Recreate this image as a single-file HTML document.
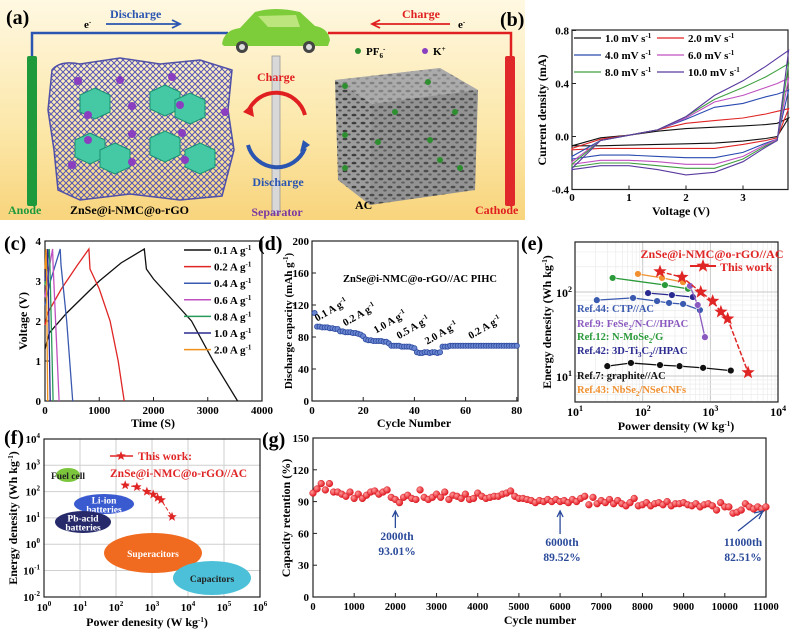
<!DOCTYPE html>
<html><head><meta charset="utf-8"><style>
html,body{margin:0;padding:0;background:#fff}
svg{display:block;font-family:"Liberation Serif",serif;font-weight:bold}
</style></head><body>
<svg id="fig" width="800" height="633" viewBox="0 0 800 633" xmlns="http://www.w3.org/2000/svg">
<defs>
<linearGradient id="bgA" x1="0" y1="0" x2="0" y2="1"><stop offset="0" stop-color="#fff8e2"/><stop offset="0.6" stop-color="#fce7a8"/><stop offset="1" stop-color="#f8d47c"/></linearGradient>
<pattern id="mesh" width="6" height="6" patternUnits="userSpaceOnUse"><path d="M0 3 L3 0 L6 3 L3 6 Z" fill="none" stroke="#5656b4" stroke-width="1"/></pattern>
<pattern id="pores" width="9" height="8" patternUnits="userSpaceOnUse"><rect width="9" height="8" fill="#9c9c9c"/><ellipse cx="3" cy="3" rx="2.5" ry="1.3" fill="#3e3e3e"/><ellipse cx="7" cy="6.5" rx="1.8" ry="1" fill="#555"/></pattern>
<radialGradient id="rdot" cx="0.35" cy="0.35" r="0.7"><stop offset="0" stop-color="#ff9a9a"/><stop offset="1" stop-color="#e0101a"/></radialGradient>
</defs>

<!-- Panel (a) schematic -->
<g>
<rect x="0" y="0" width="525" height="220" fill="url(#bgA)"/>
<text x="6" y="24" font-size="20">(a)</text>
<path d="M32 56 V33 H228" fill="none" stroke="#2a55b0" stroke-width="2.5"/>
<path d="M328 33 H511 V56" fill="none" stroke="#e02020" stroke-width="2.5"/>
<text x="84" y="28" font-size="11">e<tspan dy="-4" font-size="7">-</tspan></text>
<text x="110" y="18" font-size="12" fill="#2a55b0">Discharge</text>
<path d="M106 24 H178 M172 20 L180 24 L172 28" stroke="#2a55b0" stroke-width="1.8" fill="none"/>
<text x="402" y="18" font-size="12" fill="#e02020">Charge</text>
<path d="M450 24 H372 M380 20 L372 24 L380 28" stroke="#e02020" stroke-width="1.8" fill="none"/>
<text x="458" y="28" font-size="11">e<tspan dy="-4" font-size="7">-</tspan></text>
<g>
<path d="M222 44 Q224 30 240 28 L255 12 Q275 6 300 12 L315 26 Q328 28 330 40 L328 46 L224 46 Z" fill="#7dcc3a"/>
<path d="M258 16 L268 27 L300 27 L296 15 Z" fill="#d8ef9a" opacity="0.7"/>
<circle cx="242" cy="47" r="6" fill="#444"/><circle cx="242" cy="47" r="3" fill="#ddd"/>
<circle cx="309" cy="47" r="6" fill="#444"/><circle cx="309" cy="47" r="3" fill="#ddd"/>
</g>
<rect x="27" y="56" width="10" height="150" rx="2" fill="#1e9a3c"/>
<rect x="505" y="56" width="10" height="150" rx="2" fill="#e0282a"/>
<rect x="272" y="56" width="8" height="158" fill="#d8d8d8" stroke="#999" stroke-width="0.8"/>
<g>
<path d="M52 70 Q60 60 80 64 L120 58 L160 64 L200 60 L232 70 L228 110 L234 150 L222 196 L180 200 L130 194 L80 200 L58 190 L54 150 L48 110 Z" fill="url(#mesh)" stroke="#5050a8" stroke-width="1.5"/>
<g fill="#45c9a4" stroke="#1d8f72" stroke-width="1">
<polygon points="80,95 95,88 110,95 110,112 95,119 80,112"/>
<polygon points="150,92 165,85 180,92 180,109 165,116 150,109"/>
<polygon points="175,100 190,93 205,100 205,117 190,124 175,117"/>
<polygon points="75,140 90,133 105,140 105,157 90,164 75,157"/>
<polygon points="100,150 115,143 130,150 130,167 115,174 100,167"/>
<polygon points="150,138 165,131 180,138 180,155 165,162 150,155"/>
<polygon points="185,150 200,143 215,150 215,167 200,174 185,167"/>
</g>
<g fill="#8a3fc0">
<circle cx="78" cy="81" r="4"/><circle cx="120" cy="80" r="4"/><circle cx="172" cy="77" r="4"/><circle cx="132" cy="106" r="4"/><circle cx="180" cy="105" r="4"/><circle cx="88" cy="115" r="4"/><circle cx="225" cy="112" r="4"/><circle cx="88" cy="140" r="4"/><circle cx="132" cy="134" r="4"/><circle cx="182" cy="133" r="4"/><circle cx="72" cy="165" r="4"/><circle cx="132" cy="162" r="4"/><circle cx="185" cy="160" r="4"/>
</g>
</g>
<path d="M305 115 A30 30 0 0 0 248 112" fill="none" stroke="#e02020" stroke-width="4"/>
<path d="M243 112 L252 104 L254 117 Z" fill="#e02020"/>
<path d="M248 145 A30 30 0 0 0 305 148" fill="none" stroke="#2a55b0" stroke-width="4"/>
<path d="M310 145 L300 152 L303 140 Z" fill="#2a55b0"/>
<text x="276" y="81" font-size="12" fill="#e02020" text-anchor="middle">Charge</text>
<text x="278" y="186" font-size="12" fill="#2a55b0" text-anchor="middle">Discharge</text>
<g>
<polygon points="335,80 440,68 478,90 475,190 370,205 338,180" fill="url(#pores)"/>
<polygon points="335,80 440,68 478,90 372,104" fill="#b8b8b8" opacity="0.55"/>
<polygon points="372,104 478,90 475,190 370,205" fill="#777" opacity="0.25"/>
<g fill="#2e8f30"><circle cx="345" cy="86" r="3"/><circle cx="428" cy="82" r="3"/><circle cx="395" cy="112" r="3"/><circle cx="455" cy="112" r="3"/><circle cx="345" cy="135" r="3"/><circle cx="378" cy="142" r="3"/><circle cx="430" cy="140" r="3"/><circle cx="440" cy="160" r="3"/><circle cx="345" cy="168" r="3"/><circle cx="460" cy="168" r="3"/></g>
</g>
<circle cx="358" cy="51" r="3" fill="#2e8f30"/><text x="366" y="55" font-size="11">PF<tspan font-size="7" dy="3">6</tspan><tspan font-size="7" dy="-7">-</tspan></text>
<circle cx="425" cy="51" r="3" fill="#8a3fc0"/><text x="433" y="55" font-size="11">K<tspan font-size="7" dy="-4">+</tspan></text>
<text x="8" y="214" font-size="12" fill="#1e9a3c">Anode</text>
<text x="70" y="214" font-size="12">ZnSe@i-NMC@o-rGO</text>
<text x="277" y="216" font-size="12" fill="#7a3aa0" text-anchor="middle">Separator</text>
<text x="355" y="209" font-size="12">AC</text>
<text x="475" y="214" font-size="12" fill="#e02020">Cathode</text>
</g>

<g id="charts"></g>
</svg>
<script>
// ---------- data ----------
const cvVolt = [0,0.5,1,1.5,2,2.5,3,3.4,3.6,3.8];
const cvRates = ["1.0","2.0","4.0","6.0","8.0","10.0"];
const cvUpper1 = [-0.07,-0.01,0.01,0.04,0.06,0.07,0.08,0.09,0.10,0.14];
const cvUpper2 = [-0.09,-0.02,0.01,0.05,0.10,0.12,0.14,0.17,0.19,0.21];
const cvUpper4 = [-0.15,-0.03,0.01,0.05,0.13,0.22,0.25,0.30,0.32,0.35];
const cvUpper6 = [-0.19,-0.03,0.01,0.05,0.14,0.26,0.31,0.37,0.40,0.44];
const cvUpper8 = [-0.21,-0.03,0.01,0.05,0.15,0.28,0.37,0.45,0.50,0.55];
const cvUpper10 = [-0.24,-0.03,0.01,0.05,0.15,0.31,0.42,0.53,0.59,0.65];
const cvLower1 = [-0.07,-0.07,-0.065,-0.06,-0.055,-0.05,-0.035,-0.015,0.0,0.14];
const cvLower2 = [-0.10,-0.09,-0.09,-0.09,-0.09,-0.09,-0.06,-0.03,-0.01,0.21];
const cvLower4 = [-0.17,-0.14,-0.14,-0.15,-0.16,-0.16,-0.12,-0.05,-0.02,0.35];
const cvLower6 = [-0.21,-0.18,-0.18,-0.19,-0.21,-0.21,-0.15,-0.06,-0.02,0.44];
const cvLower8 = [-0.23,-0.20,-0.20,-0.22,-0.24,-0.24,-0.17,-0.07,-0.03,0.55];
const cvLower10 = [-0.25,-0.22,-0.22,-0.25,-0.29,-0.27,-0.19,-0.08,-0.03,0.65];

const gcdCurrents = ["0.1","0.2","0.4","0.6","0.8","1.0","2.0"];
const gcdTime01 = [0,80,400,1000,1400,1830,1870,2000,2700,3100,3550];
const gcdVolt01 = [1.3,1.7,2.2,3.0,3.45,3.8,3.3,3.05,2.0,1.0,0];
const gcdTime02 = [0,50,300,600,810,830,1000,1200,1350,1460];
const gcdVolt02 = [1.9,2.2,2.8,3.4,3.8,3.3,2.8,2.0,1.0,0];
const gcdTime04 = [0,100,280,295,400,510];
const gcdVolt04 = [2.4,3.0,3.8,3.4,2.0,0];
const gcdTime06 = [0,60,140,150,260];
const gcdVolt06 = [2.6,3.2,3.8,3.4,0];
const gcdTime08 = [0,40,80,90,150];
const gcdVolt08 = [2.9,3.4,3.8,3.4,0];
const gcdTime10 = [0,50,55,95];
const gcdVolt10 = [3.0,3.8,3.4,0];
const gcdTime20 = [0,20,25,50];
const gcdVolt20 = [3.3,3.8,3.4,0];

const rateCapacity = [110,93,93,92,92,92,91,91,90,90,87,87,86,86,86,85,85,84,83,81,77,76,76,75,75,75,75,74,74,72,69,69,69,69,68,68,68,68,67,66,61,60,60,61,61,60,61,61,60,61,68,68,68,69,69,69,69,69,69,69,69,69,69,69,69,69,69,69,69,69,69,69,69,69,69,69,69,69,69,69];
const rateLabels = ["0.1 A g","0.2 A g","1.0 A g","0.5 A g","2.0 A g","0.2 A g"];
const rateLabelCycle = [2,13,25,34,45,62];
const rateLabelCap = [93,87,78,71,64,71];

const thisPower = [180,380,720,1080,1430,1800,3600];
const thisEnergy = [175,150,100,78,58,48,11];
const ref43Power = [85,193,394];
const ref43Energy = [164,147,131];
const ref12Power = [36,213,467];
const ref12Energy = [147,121,109];
const ref7Power = [30,67,180,350,780,2000];
const ref7Energy = [13.1,14.3,13.5,13.1,12.5,11.6];
const ref44Power = [21,72,163,245,395,700];
const ref44Energy = [80,85,78,74,72,61];
const ref42Power = [120,270,550];
const ref42Energy = [97,92,87];
const ref9Power = [500,650,830];
const ref9Energy = [118,70,29];

const cycleStep = 100;
const retention = [98,102,107,101,107,99,99,97,95,99,93,
97,93,96,99,100,97,99,101,94,92,
89,94,96,93,92,101,94,92,94,97,
94,99,92,96,95,93,97,92,93,98,
95,93,94,95,95,97,98,100,95,93,
93,92,91,89,91,90,92,90,92,90,
91,89,92,90,93,95,87,94,88,91,
89,92,88,91,88,86,89,93,86,87,
89,86,88,89,87,90,86,88,88,89,
87,86,88,85,87,88,86,82,89,85,
85,79,80,82,88,85,83,85,83,85];

// ---------- helpers ----------
const NS="http://www.w3.org/2000/svg";
const root=document.getElementById('charts');
function mk(tag,attrs,parent){const e=document.createElementNS(NS,tag);for(const k in attrs)e.setAttribute(k,attrs[k]);(parent||root).appendChild(e);return e;}
function txt(x,y,s,size,extra,parent){const e=mk('text',Object.assign({x:x,y:y,'font-size':size},extra||{}),parent);e.innerHTML=s;return e;}
function poly(xs,ys,fx,fy){return xs.map((v,i)=>(i?'L':'M')+fx(v).toFixed(1)+' '+fy(ys[i]).toFixed(1)).join(' ');}
function star(cx,cy,r){let p='';for(let i=0;i<10;i++){const a=-Math.PI/2+i*Math.PI/5,rr=i%2?r*0.42:r;p+=(i?'L':'M')+(cx+rr*Math.cos(a)).toFixed(1)+' '+(cy+rr*Math.sin(a)).toFixed(1);}return p+'Z';}
const lg=Math.log10;

// ---------- panel b ----------
{
const g=mk('g',{});


const xb=v=>572+v*57, yb=i=>136.5-i*132.5;
const lab=txt(500,26,'(b)',20,{},g);


const fr=mk('rect',{x:572,y:30,width:216,height:159.5,fill:'none',stroke:'#222','stroke-width':1.2},g);


[0,1,2,3].forEach(v=>{mk('line',{x1:xb(v),x2:xb(v),y1:189.5,y2:185.5,stroke:'#222'},g);const t=txt(xb(v),201,String(v),11,{'text-anchor':'middle'},g);

});
[-0.4,0,0.4,0.8].forEach(v=>{mk('line',{x1:572,x2:576,y1:yb(v),y2:yb(v),stroke:'#222'},g);const t=txt(569,yb(v)+4,v.toFixed(1),11,{'text-anchor':'end'},g);

});
const xt=txt(681,215,'Voltage (V)',12,{'text-anchor':'middle'},g);


const yt=txt(0,0,'Current density (mA)',12,{'text-anchor':'middle',transform:'translate(546,110) rotate(-90)'},g);


const cols=['#111','#e02525','#2a4ab0','#c050c0','#40a040','#5a3aa0'];
const ups=[cvUpper1,cvUpper2,cvUpper4,cvUpper6,cvUpper8,cvUpper10];
const los=[cvLower1,cvLower2,cvLower4,cvLower6,cvLower8,cvLower10];
ups.forEach((u,k)=>{
 const d=poly(cvVolt,u,xb,yb)+' '+poly(cvVolt.slice().reverse(),los[k].slice().reverse(),xb,yb).replace('M','L')+'Z';
 const p=mk('path',{d:d,fill:'none',stroke:cols[k],'stroke-width':1.1},g);
 
 
 const col=k%2, row=Math.floor(k/2);
 const lx=col?657:574, ly=42+row*17;
 const ll=mk('line',{x1:lx,x2:lx+27,y1:ly-4,y2:ly-4,stroke:cols[k],'stroke-width':1.3},g);
 
 
 const lt=txt(lx+31,ly,cvRates[k]+' mV s<tspan dy="-4" font-size="7">-1</tspan>',11,{},g);
 
 
});
}

// ---------- panel c ----------
{
const g=mk('g',{});


const xc=t=>45+t*0.05425, yc=v=>401-v*40;
const lab=txt(4,250,'(c)',20,{},g);


const fr=mk('rect',{x:45,y:241,width:217,height:160,fill:'none',stroke:'#222','stroke-width':1.2},g);


[0,1000,2000,3000,4000].forEach(v=>{mk('line',{x1:xc(v),x2:xc(v),y1:401,y2:397,stroke:'#222'},g);const t=txt(xc(v),414,String(v),11,{'text-anchor':'middle'},g);

});
[0,1,2,3,4].forEach(v=>{mk('line',{x1:45,x2:49,y1:yc(v),y2:yc(v),stroke:'#222'},g);const t=txt(41,yc(v)+4,String(v),11,{'text-anchor':'end'},g);

});
const xt=txt(153,427,'Time (S)',12,{'text-anchor':'middle'},g);


const yt=txt(0,0,'Voltage (V)',12,{'text-anchor':'middle',transform:'translate(27,321) rotate(-90)'},g);


const cols=['#111','#e02525','#3a5ab0','#c050c0','#2a9a5a','#2a2a90','#f0901a'];
const T=[gcdTime01,gcdTime02,gcdTime04,gcdTime06,gcdTime08,gcdTime10,gcdTime20];
const V=[gcdVolt01,gcdVolt02,gcdVolt04,gcdVolt06,gcdVolt08,gcdVolt10,gcdVolt20];
T.forEach((t,k)=>{
 const p=mk('path',{d:poly(t,V[k],xc,yc),fill:'none',stroke:cols[k],'stroke-width':1.3},g);
 
 
 const ly=254+k*16.6;
 const ll=mk('line',{x1:184,x2:211,y1:ly-4,y2:ly-4,stroke:cols[k],'stroke-width':1.5},g);
 
 
 const lt=txt(214,ly,gcdCurrents[k]+' A g<tspan dy="-4" font-size="7">-1</tspan>',11,{},g);
 
 
});
}

// ---------- panel d ----------
{
const g=mk('g',{});


const xd=n=>312+n*2.56, yd=c=>401-c*0.8;
const lab=txt(258,250,'(d)',20,{},g);


const fr=mk('rect',{x:312,y:241,width:206,height:160,fill:'none',stroke:'#222','stroke-width':1.2},g);


[0,20,40,60,80].forEach(v=>{mk('line',{x1:xd(v),x2:xd(v),y1:401,y2:397,stroke:'#222'},g);const t=txt(xd(v),414,String(v),11,{'text-anchor':'middle'},g);

});
[0,40,80,120,160,200].forEach(v=>{mk('line',{x1:312,x2:316,y1:yd(v),y2:yd(v),stroke:'#222'},g);const t=txt(309,yd(v)+4,String(v),11,{'text-anchor':'end'},g);

});
const xt=txt(414,427,'Cycle Number',12,{'text-anchor':'middle'},g);


const yt=txt(0,0,'Discharge capacity (mAh g<tspan dy="-4" font-size="7">-1</tspan><tspan dy="4">)</tspan>',11,{'text-anchor':'middle',transform:'translate(292,321) rotate(-90)'},g);


const ti=txt(420,282,'ZnSe@i-NMC@o-rGO//AC PIHC',10.5,{'text-anchor':'middle'},g);


rateCapacity.forEach((c,i)=>{
 const d=mk('circle',{cx:xd(i+1),cy:yd(c),r:2.6,fill:'#6a86d0',stroke:'#2d4aa0','stroke-width':0.8},g);
 
 
});
rateLabels.forEach((s,i)=>{
 const x=xd(rateLabelCycle[i]), y=yd(rateLabelCap[i])-5;
 const t=txt(0,0,s+'<tspan dy="-4" font-size="7">-1</tspan>',10.5,{transform:'translate('+x+','+y+') rotate(-30)'},g);
 
 
});
}

// ---------- panel e ----------
{
const g=mk('g',{});


const xe=p=>575+(lg(p)-1)*67.7, ye=e=>376-(lg(e)-1)*84;
const lab=txt(521,250,'(e)',20,{},g);


for(let dcd=1;dcd<4;dcd++)for(let m=1;m<10;m++){const x=xe(m*Math.pow(10,dcd));mk('line',{x1:x,x2:x,y1:242,y2:402,stroke:m==1?'#c8c8c8':'#ececec','stroke-width':m==1?1:0.7},g);}
[5,6,7,8,9,10,20,30,40,50,60,70,80,90,100,200,300,400].forEach(v=>{const y=ye(v);mk('line',{x1:575,x2:778,y1:y,y2:y,stroke:(v==10||v==100)?'#c8c8c8':'#ececec','stroke-width':(v==10||v==100)?1:0.7},g);});
const fr=mk('rect',{x:575,y:242,width:203,height:160,fill:'none',stroke:'#222','stroke-width':1.2},g);


[1,2,3,4].forEach(v=>{const t=txt(xe(Math.pow(10,v)),416,'10<tspan dy="-5" font-size="8">'+v+'</tspan>',12,{'text-anchor':'middle'},g);

});
[1,2].forEach(v=>{const t=txt(572,ye(Math.pow(10,v))+5,'10<tspan dy="-5" font-size="8">'+v+'</tspan>',12,{'text-anchor':'end'},g);

});
const xt=txt(676,430,'Power density (W kg<tspan dy="-4" font-size="7">-1</tspan><tspan dy="4">)</tspan>',12,{'text-anchor':'middle'},g);


const yt=txt(0,0,'Energy denesity (Wh kg<tspan dy="-4" font-size="7">-1</tspan><tspan dy="4">)</tspan>',12,{'text-anchor':'middle',transform:'translate(551,322) rotate(-90)'},g);


const refs=[[ref7Power,ref7Energy,'#111','ref7'],[ref44Power,ref44Energy,'#3a5ab0','ref44'],[ref42Power,ref42Energy,'#2a2a90','ref42'],[ref12Power,ref12Energy,'#2a9a3a','ref12'],[ref43Power,ref43Energy,'#f09030','ref43'],[ref9Power,ref9Energy,'#8a5ac0','ref9']];
refs.forEach(r=>{
 const p=mk('path',{d:poly(r[0],r[1],xe,ye),fill:'none',stroke:r[2],'stroke-width':1.3},g);
 
 
 r[0].forEach((v,i)=>{const c=mk('circle',{cx:xe(v),cy:ye(r[1][i]),r:3.4,fill:r[2],stroke:'#fff','stroke-width':0.6},g);
 
 });
});
const tl=mk('path',{d:poly(thisPower,thisEnergy,xe,ye),fill:'none',stroke:'#e02525','stroke-width':1.5,'stroke-dasharray':'5 2'},g);


thisPower.forEach((v,i)=>{const s=mk('path',{d:star(xe(v),ye(thisEnergy[i]),7),fill:'#e02525'},g);

});
const t1=txt(712,258,'ZnSe@i-NMC@o-rGO//AC',12,{'text-anchor':'middle',fill:'#e02525'},g);


mk('line',{x1:690,x2:716,y1:266,y2:266,stroke:'#e02525','stroke-width':2},g);
mk('path',{d:star(703,266,7),fill:'#e02525'},g);
const t2=txt(720,271,'This work',12,{fill:'#e02525'},g);


const refLabels=[['Ref.44: CTP//AC','#3a5ab0',312],['Ref.9: FeSe<tspan dy="3" font-size="7">2</tspan><tspan dy="-3">/N-C//HPAC</tspan>','#8a5ac0',327],['Ref.12: N-MoSe<tspan dy="3" font-size="7">2</tspan><tspan dy="-3">/G</tspan>','#2a9a3a',340],['Ref.42: 3D-Ti<tspan dy="3" font-size="7">3</tspan><tspan dy="-3">C</tspan><tspan dy="3" font-size="7">2</tspan><tspan dy="-3">//HPAC</tspan>','#2a2a90',354],['Ref.7: graphite//AC','#111',379],['Ref.43: NbSe<tspan dy="3" font-size="7">2</tspan><tspan dy="-3">/NSeCNFs</tspan>','#f09030',393]];
refLabels.forEach(r=>{const t=txt(577,r[2],r[0],10.5,{fill:r[1]},g);

});
}

// ---------- panel f ----------
{
const g=mk('g',{});


const xf=p=>44+lg(p)*36, yf=e=>439+(4-lg(e))*26.3;
const lab=txt(4,444,'(f)',20,{},g);


for(let v=1;v<6;v++){mk('line',{x1:xf(Math.pow(10,v)),x2:xf(Math.pow(10,v)),y1:439,y2:597,stroke:'#cfcfcf'},g);}
for(let v=-1;v<4;v++){mk('line',{x1:44,x2:260,y1:yf(Math.pow(10,v)),y2:yf(Math.pow(10,v)),stroke:'#cfcfcf'},g);}
const fr=mk('rect',{x:44,y:439,width:216,height:158,fill:'none',stroke:'#222','stroke-width':1.2},g);


[0,1,2,3,4,5,6].forEach(v=>{const t=txt(xf(Math.pow(10,v)),611,'10<tspan dy="-5" font-size="7">'+v+'</tspan>',11,{'text-anchor':'middle'},g);

});
[-2,-1,0,1,2,3,4].forEach(v=>{const t=txt(40,yf(Math.pow(10,v))+4,'10<tspan dy="-5" font-size="7">'+v+'</tspan>',11,{'text-anchor':'end'},g);

});
const xt=txt(147,626,'Power denesity (W kg<tspan dy="-4" font-size="7">-1</tspan><tspan dy="4">)</tspan>',12,{'text-anchor':'middle'},g);


const yt=txt(0,0,'Energy denesity (Wh kg<tspan dy="-4" font-size="7">-1</tspan><tspan dy="4">)</tspan>',12,{'text-anchor':'middle',transform:'translate(17,518) rotate(-90)'},g);


const regions=[['fuel-cell',68,475,12,7,'#7cc63c','Fuel cell','#222'],['li-ion',104,504,30,10,'#3a5ad0','Li-ion|batteries','#fff'],['pb-acid',83,522,28,11,'#262a6a','Pb-acid|batteries','#fff'],['supercapacitors',153,553,49,20,'#f06a20','Superacitors','#fff'],['capacitors',212,578,39,17,'#4cc0d8','Capacitors','#222']];
regions.forEach(r=>{
 const e=mk('ellipse',{cx:r[1],cy:r[2],rx:r[3],ry:r[4],fill:r[5]},g);
 
 
 const lines=r[6].split('|');
 lines.forEach((s,i)=>{const t=txt(r[1],r[2]+4+(i-(lines.length-1)/2)*9,s,9.5,{'text-anchor':'middle',fill:r[7]},g);
 
 });
});
const tl=mk('path',{d:poly(thisPower,thisEnergy,xf,yf),fill:'none',stroke:'#e02525','stroke-width':1,'stroke-dasharray':'4 2'},g);


thisPower.forEach((v,i)=>{const s=mk('path',{d:star(xf(v),yf(thisEnergy[i]),5),fill:'#e02525'},g);

});
mk('line',{x1:110,x2:133,y1:456,y2:456,stroke:'#e02525','stroke-width':1.5},g);
mk('path',{d:star(121,456,5),fill:'#e02525'},g);
const t1=txt(138,460,'This work:',11.5,{fill:'#e02525'},g);


const t2=txt(110,477,'ZnSe@i-NMC@o-rGO//AC',11.5,{fill:'#e02525'},g);


}

// ---------- panel g ----------
{
const g=mk('g',{});


const xg=n=>313+n*0.04118, yg=v=>597-v*1.06;
const lab=txt(262,446,'(g)',20,{},g);


const fr=mk('rect',{x:313,y:438,width:453,height:159,fill:'none',stroke:'#222','stroke-width':1.2},g);


for(let v=0;v<=11000;v+=1000){mk('line',{x1:xg(v),x2:xg(v),y1:597,y2:593,stroke:'#222'},g);const t=txt(xg(v),610,String(v),10.5,{'text-anchor':'middle'},g);

}
for(let v=0;v<=150;v+=30){mk('line',{x1:313,x2:317,y1:yg(v),y2:yg(v),stroke:'#222'},g);const t=txt(309,yg(v)+4,String(v),11,{'text-anchor':'end'},g);

}
const xt=txt(540,624,'Cycle number',12,{'text-anchor':'middle'},g);


const yt=txt(0,0,'Capacity retention (%)',12,{'text-anchor':'middle',transform:'translate(290,518) rotate(-90)'},g);


retention.forEach((v,i)=>{
 const c=mk('circle',{cx:xg(i*cycleStep),cy:yg(v),r:3.4,fill:'url(#rdot)',stroke:'#d01018','stroke-width':0.4},g);
 
 
});
const ann=[[2000,'2000th','93.01%',397,540],[6000,'6000th','89.52%',562,546],[11000,'11000th','82.51%',743,546]];
ann.forEach((a,i)=>{
 const x=xg(a[0]);
 if(i<2){mk('path',{d:'M'+x+' '+(a[4]-12)+' V512 M'+(x-3)+' 517 L'+x+' 511 L'+(x+3)+' 517',stroke:'#2a4a9a','stroke-width':1.3,fill:'none'},g);}
 else{mk('path',{d:'M738 531 L762 512 M754 513 L763 511 L759 519',stroke:'#2a4a9a','stroke-width':1.3,fill:'none'},g);}
 const t=txt(a[3],a[4],a[1],11.5,{'text-anchor':'middle',fill:'#2a4a9a'},g);
 
 
 const t2=txt(a[3],a[4]+15,a[2],11.5,{'text-anchor':'middle',fill:'#2a4a9a'},g);
 
 
});
}
</script>
</body></html>
